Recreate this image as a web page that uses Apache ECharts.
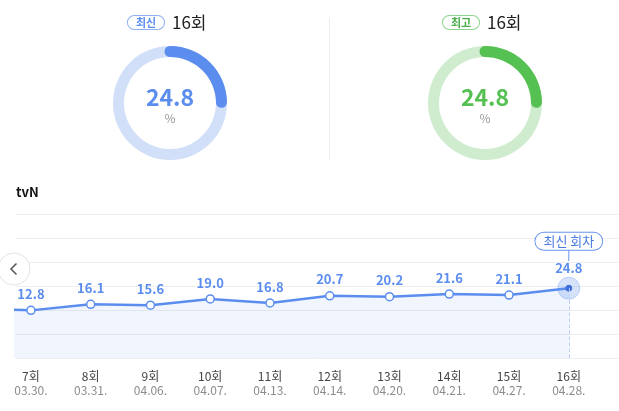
<!DOCTYPE html>
<html>
<head>
<meta charset="utf-8">
<script src="https://cdn.jsdelivr.net/npm/echarts@6/dist/echarts.min.js"></script>
<style>
html,body{margin:0;padding:0;background:#fff;}
#c{width:619px;height:411px;}
</style>
</head>
<body>
<div id="c"></div>
<script>
// ---- data ----
const episodes = ['6회','7회','8회','9회','10회','11회','12회','13회','14회','15회','16회'];
const dates = ['03.24.','03.30.','03.31.','04.06.','04.07.','04.13.','04.14.','04.20.','04.21.','04.27.','04.28.'];
const ratings = [14.1, 12.8, 16.1, 15.6, 19.0, 16.8, 20.7, 20.2, 21.6, 21.1, 24.8];
const channel = 'tvN';
const tagLatest = '최신';
const tagBest = '최고';
const tagLatestEpisode = '최신 회차';

const FONT = "'Noto Sans CJK KR','Noto Sans',sans-serif";
const BLUE = '#5b8def';
const BLUE_LIGHT = '#d2dff8';
const GREEN = '#55c153';
const GREEN_LIGHT = '#cfeccf';

const lastIdx = ratings.length - 1;
const latestValue = ratings[lastIdx];
let bestIdx = 0;
ratings.forEach((v, i) => { if (v >= ratings[bestIdx]) bestIdx = i; });
const bestValue = ratings[bestIdx];

const chart = echarts.init(document.getElementById('c'), null, {renderer: 'canvas'});

function gauge(center, value, color, light) {
  return {
    type: 'gauge',
    center: center,
    radius: 57,
    startAngle: 90,
    endAngle: -270,
    min: 0,
    max: 100,
    pointer: {show: false},
    progress: {show: true, roundCap: true, width: 11, itemStyle: {color: color}},
    axisLine: {lineStyle: {width: 11, color: [[1, light]]}},
    axisTick: {show: false},
    splitLine: {show: false},
    axisLabel: {show: false},
    anchor: {show: false},
    title: {show: false},
    silent: true,
    animation: false,
    detail: {
      offsetCenter: [0, 1],
      formatter: v => '{v|' + v.toFixed(1) + '}\n{p|%}',
      rich: {
        v: {fontSize: 23, fontWeight: 'bold', color: color, lineHeight: 28, fontFamily: FONT},
        p: {fontSize: 12, fontWeight: 'normal', color: '#999', lineHeight: 14, fontFamily: FONT}
      }
    },
    data: [{value: value}]
  };
}

const option = {
  animation: false,
  backgroundColor: '#fff',
  grid: {left: 16, right: 0, top: 214, bottom: 53},
  xAxis: {
    type: 'value',
    min: 0.75,
    max: 10.84,
    axisLine: {show: false},
    axisTick: {show: false},
    splitLine: {show: false},
    axisLabel: {
      customValues: episodes.map((e, i) => i).slice(1),
      margin: 11,
      formatter: v => '{ep|' + episodes[v] + '}\n{dt|' + dates[v] + '}',
      rich: {
        ep: {fontSize: 12, color: '#444', lineHeight: 14, fontFamily: FONT},
        dt: {fontSize: 12, color: '#8c8c8c', lineHeight: 14, fontFamily: FONT}
      }
    }
  },
  yAxis: {
    type: 'value',
    min: -13,
    max: 65,
    interval: 13,
    axisLine: {show: false},
    axisTick: {show: false},
    axisLabel: {show: false},
    splitLine: {lineStyle: {color: '#eeeeee', width: 1}}
  },
  series: [
    gauge([170, 103], latestValue, BLUE, BLUE_LIGHT),
    gauge([485, 103], bestValue, GREEN, GREEN_LIGHT),
    {
      type: 'scatter',
      z: 1,
      silent: true,
      symbolSize: 22,
      itemStyle: {color: 'rgba(91,141,239,0.3)', borderColor: 'rgba(91,141,239,0.4)', borderWidth: 1},
      data: [[lastIdx, latestValue]]
    },
    {
      type: 'line',
      z: 3,
      silent: true,
      data: ratings.map((v, i) => {
        const d = {value: [i, v]};
        if (i === lastIdx) {
          d.symbolSize = 6;
          d.itemStyle = {color: '#3f6fd6', borderColor: '#3f6fd6', borderWidth: 1};
          d.label = {distance: 10};
        }
        return d;
      }),
      symbol: 'circle',
      symbolSize: 8,
      showAllSymbol: true,
      lineStyle: {color: BLUE, width: 2.5},
      itemStyle: {color: '#fff', borderColor: BLUE, borderWidth: 1.5},
      areaStyle: {color: 'rgba(91,141,239,0.13)', origin: 'start'},
      label: {
        show: true,
        position: 'top',
        distance: 5,
        formatter: p => p.value[1].toFixed(1),
        color: BLUE,
        fontSize: 13,
        fontWeight: 'bold',
        fontFamily: FONT
      },
      markLine: {
        silent: true,
        symbol: 'none',
        label: {show: false},
        lineStyle: {color: '#b9cdf6', type: 'dashed', width: 1},
        data: [[{coord: [lastIdx, latestValue]}, {coord: [lastIdx, -13]}]]
      }
    }
  ]
};
chart.setOption(option);

// decorations placed with the chart's own scales
const pt = chart.convertToPixel({gridIndex: 0}, [lastIdx, latestValue]);
const graphics = [
  // top tags
  {type: 'text', x: 146, y: 22.5, style: {text: tagLatest, font: 'bold 11px ' + FONT, fill: BLUE, align: 'center', verticalAlign: 'middle',
    backgroundColor: '#fff', borderColor: '#8fb0f2', borderWidth: 1, borderRadius: 8, padding: [1, 8, 1, 8]}},
  {type: 'text', x: 172, y: 22.5, style: {text: episodes[lastIdx], font: '17px ' + FONT, fill: '#222', verticalAlign: 'middle'}},
  {type: 'text', x: 461, y: 22.5, style: {text: tagBest, font: 'bold 11px ' + FONT, fill: '#4cae48', align: 'center', verticalAlign: 'middle',
    backgroundColor: '#fff', borderColor: '#8fd48c', borderWidth: 1, borderRadius: 8, padding: [1, 8, 1, 8]}},
  {type: 'text', x: 487, y: 22.5, style: {text: episodes[bestIdx], font: '17px ' + FONT, fill: '#222', verticalAlign: 'middle'}},
  // divider
  {type: 'line', shape: {x1: 329.5, y1: 18, x2: 329.5, y2: 160}, style: {stroke: '#eeeeee', lineWidth: 1}},
  // channel
  {type: 'text', x: 16, y: 192, style: {text: channel, font: 'bold 13px ' + FONT, fill: '#111', verticalAlign: 'middle'}},
  // left nav button
  {type: 'circle', shape: {cx: 14, cy: 269, r: 16}, style: {fill: '#fff', stroke: '#e3e3e3', lineWidth: 1}, z: 100},
  {type: 'polyline', shape: {points: [[16.5, 263.5], [11, 269], [16.5, 274.5]]}, style: {stroke: '#555', lineWidth: 1.5, fill: null}, z: 101},
  // latest episode tag
  {type: 'line', shape: {x1: pt[0], y1: pt[1] - 38, x2: pt[0], y2: pt[1] - 27}, style: {stroke: '#6a95ee', lineWidth: 1}, z: 50},
  {type: 'text', x: pt[0], y: pt[1] - 47, z: 51, style: {text: tagLatestEpisode, font: '13px ' + FONT, fill: '#4a7ae0', align: 'center', verticalAlign: 'middle',
    backgroundColor: '#fff', borderColor: '#6a95ee', borderWidth: 1, borderRadius: 10, padding: [2, 8, 2, 8]}}
];
chart.setOption({graphic: graphics});
</script>
</body>
</html>
